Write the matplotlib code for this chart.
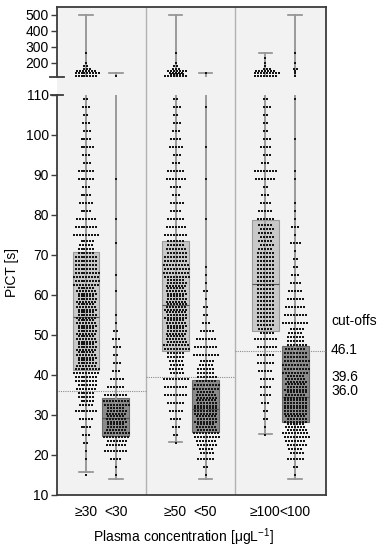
import numpy as np
import matplotlib
matplotlib.use('Agg')
import matplotlib.pyplot as plt
from matplotlib.transforms import blended_transform_factory

plt.rcParams['font.family'] = ['Liberation Sans', 'DejaVu Sans']
plt.rcParams['mathtext.default'] = 'regular'

# ---------------- data ----------------
groups = ['≥30', '<30', '≥50', '<50', '≥100', '<100']
cutoffs = [36.0, 39.6, 46.1]
cutoff_labels = ['36.0', '39.6', '46.1']

q1 = [41.2, 24.8, 46.1, 25.7, 51.1, 28.3]
med = [54.5, 29.3, 57.5, 31.4, 62.8, 34.6]
q3 = [70.7, 34.2, 73.6, 38.8, 78.8, 47.3]
whislo = [15.7, 13.9, 23.2, 13.9, 25.3, 13.9]
whishi = [500, 137, 500, 137, 260, 500]

# counts of observations per 2-s bin (bin centres 15, 17, ..., 109)
bin_centers = np.arange(15, 110, 2)
c_ge30 = [1, 0, 1, 1, 2, 3, 4, 5, 8, 10, 12, 14, 16, 18, 20, 20,
          20, 20, 20, 20, 20, 20, 20, 20, 18, 18, 16, 16, 12, 10, 9, 8,
          7, 4, 5, 4, 3, 6, 6, 3, 3, 5, 4, 3, 3, 2, 3, 2]
c_lt30 = [1, 1, 4, 8, 14, 18, 20, 20, 20, 18, 8, 6, 5, 3, 3, 2,
          3, 3, 2, 1, 1, 0, 0, 1, 0, 1, 0, 0, 0, 1, 0, 0,
          1, 0, 0, 0, 0, 1, 0, 0, 0, 0, 0, 0, 0, 0, 0, 0]
c_ge50 = [0, 0, 0, 0, 1, 2, 3, 4, 5, 6, 8, 8, 9, 10, 10, 12,
          18, 20, 20, 20, 22, 22, 20, 20, 20, 18, 18, 16, 14, 12, 8, 7,
          6, 4, 5, 3, 4, 7, 6, 3, 3, 5, 4, 3, 3, 2, 3, 2]
c_lt50 = [1, 2, 6, 10, 14, 18, 20, 22, 24, 22, 20, 18, 14, 12, 10, 9,
          8, 7, 5, 3, 2, 2, 1, 2, 1, 1, 1, 0, 0, 0, 0, 0,
          1, 0, 0, 0, 0, 1, 0, 0, 0, 1, 0, 0, 0, 0, 1, 0]
c_ge100 = [0, 0, 0, 0, 0, 1, 1, 2, 2, 3, 4, 4, 5, 5, 6, 6,
           7, 8, 10, 12, 12, 12, 12, 12, 12, 12, 12, 12, 11, 10, 10, 10,
           6, 5, 4, 3, 2, 7, 8, 3, 3, 4, 3, 2, 2, 2, 3, 2]
c_lt100 = [1, 2, 6, 10, 14, 18, 20, 22, 24, 24, 22, 22, 20, 18, 18, 16,
           14, 12, 10, 9, 8, 7, 6, 5, 4, 3, 2, 2, 1, 4, 1, 3,
           1, 1, 1, 0, 0, 1, 1, 0, 0, 0, 1, 0, 0, 0, 0, 1]

# counts of observations above 110 s (bin centres in seconds)
top_centers = [120, 135, 150, 165, 180, 200, 230, 260]
t_ge30 = [8, 9, 7, 3, 2, 1, 0, 1]
t_lt30 = [1, 0, 0, 0, 0, 0, 0, 0]
t_ge50 = [8, 10, 7, 3, 2, 1, 0, 1]
t_lt50 = [0, 1, 0, 0, 0, 0, 0, 0]
t_ge100 = [8, 9, 7, 3, 1, 1, 1, 0]
t_lt100 = [1, 1, 1, 2, 0, 1, 0, 1]

main_counts = [c_ge30, c_lt30, c_ge50, c_lt50, c_ge100, c_lt100]
top_counts = [t_ge30, t_lt30, t_ge50, t_lt50, t_ge100, t_lt100]

# ---------------- styling ----------------
BG = '#f2f2f2'
SPINE = '#3c3c3c'
LIGHT_BOX = '#c8c8c8'
DARK_BOX = '#8a8a8a'
WHISK = '#8f8f8f'
FS = 10

positions = [sec * 3 + k for sec in range(3) for k in (1, 2)]
sections = [(0, 3), (3, 6), (6, 9)]
XLIM = (0.03, 9.03)

fig = plt.figure(figsize=(3.78, 5.5), dpi=100)
W, H = 378.0, 550.0
L, R = 57 / W, 326 / W


def fy(px):
    return 1 - px / H


ax_bg = fig.add_axes([L, fy(495), R - L, fy(7) - fy(495)])
ax_top = fig.add_axes([L, fy(77), R - L, fy(7) - fy(77)])
ax = fig.add_axes([L, fy(495), R - L, fy(95) - fy(495)])

# background panel
ax_bg.set_facecolor(BG)
ax_bg.set_xlim(*XLIM)
ax_bg.set_ylim(0, 1)
for s in ['left', 'bottom']:
    ax_bg.spines[s].set_visible(False)
for s in ['top', 'right']:
    ax_bg.spines[s].set_color(SPINE)
    ax_bg.spines[s].set_linewidth(1.3)
ax_bg.set_xticks([])
ax_bg.set_yticks([])
for a, b in sections[:-1]:
    ax_bg.axvline(b, color='#b2b2b2', lw=1.0)


def swarm(a, xc, centers, counts, bin_h, max_per_row=9, dx=0.1):
    xs, ys = [], []
    row = 0
    for c, n in zip(centers, counts):
        if n == 0:
            continue
        r = int(np.ceil(n / max_per_row))
        base, extra = divmod(n, r)
        for i in range(r):
            k = base + (1 if i < extra else 0)
            y = c - bin_h / 2 + (i + 0.5) * bin_h / r
            off = (np.arange(k) - (k - 1) / 2) * dx
            if k > 2 and row % 2:
                off = off + dx / 2 * (1 if k % 2 else 0)
            xs.extend(xc + off)
            ys.extend([y] * k)
            row += 1
    a.scatter(xs, ys, marker='s', s=1.6, c='#151515', linewidths=0, zorder=5)


stats = [dict(med=med[i], q1=q1[i], q3=q3[i], whislo=whislo[i],
              whishi=whishi[i], fliers=[]) for i in range(len(groups))]

for a in (ax, ax_top):
    a.set_facecolor('none')
    bp = a.bxp(stats, positions=positions, widths=0.9, patch_artist=True,
               showfliers=False,
               boxprops=dict(linewidth=0.8),
               whiskerprops=dict(color=WHISK, linewidth=1.2),
               capprops=dict(color=WHISK, linewidth=1.2),
               medianprops=dict(color='#555555', linewidth=0.8),
               capwidths=0.45, manage_ticks=False)
    for i, box in enumerate(bp['boxes']):
        light = groups[i].startswith('≥')
        box.set_facecolor(LIGHT_BOX if light else DARK_BOX)
        box.set_edgecolor('#9a9a9a' if light else '#6a6a6a')
        box.set_zorder(2)
    a.vlines(positions, whislo, whishi, color='#9c9c9c', lw=1.1, zorder=3)
    a.set_xlim(*XLIM)
    for s in ['top', 'right']:
        a.spines[s].set_visible(False)

for i, p in enumerate(positions):
    swarm(ax, p, bin_centers, main_counts[i], 2.0)
    swarm(ax_top, p, top_centers, top_counts[i], 15.0)

for (a0, b0), c in zip(sections, cutoffs):
    ax.hlines(c, a0, b0, colors='#8c8c8c', linestyles=(0, (1, 1)), lw=0.8, zorder=1)

ax.set_ylim(10, 110)
ax.set_yticks(np.arange(10, 111, 10))
ax.set_xticks(positions)
ax.set_xticklabels(groups, fontsize=FS)
ax.tick_params(axis='x', length=0, pad=7)
ax.tick_params(axis='y', length=4, width=1, color=SPINE, labelsize=FS, pad=2)
for s in ['left', 'bottom']:
    ax.spines[s].set_color(SPINE)
    ax.spines[s].set_linewidth(1.3)
ax.plot([-0.022, 0.022], [1, 1], transform=ax.transAxes, clip_on=False,
        color=SPINE, lw=1.3)

# top panel
ax_top.set_ylim(112.5, 550)
ax_top.set_yticks([200, 300, 400, 500])
ax_top.set_xticks([])
ax_top.spines['bottom'].set_visible(False)
ax_top.spines['left'].set_color(SPINE)
ax_top.spines['left'].set_linewidth(1.3)
ax_top.tick_params(axis='y', length=4, width=1, color=SPINE, labelsize=FS, pad=2)
ax_top.plot([-0.025, 0.025], [0, 0], transform=ax_top.transAxes, clip_on=False,
            color=SPINE, lw=1.3)

# cut-off labels
tr = blended_transform_factory(ax.transAxes, ax.transData)
ax.text(1.019, 53.5, 'cut-offs', transform=tr, ha='left', va='center', fontsize=FS)
label_y = [35.9, 39.6, 46.2]
for lab, yv in zip(cutoff_labels, label_y):
    ax.text(1.019, yv, lab, transform=tr, ha='left', va='center', fontsize=FS)

fig.text(183 / W, fy(537), 'Plasma concentration [μgL$^{-1}$]', ha='center',
         va='center', fontsize=FS)
fig.text(12 / W, fy(272), 'PiCT [s]', rotation=90, ha='center', va='center',
         fontsize=FS)

fig.savefig('out.png', dpi=100)
